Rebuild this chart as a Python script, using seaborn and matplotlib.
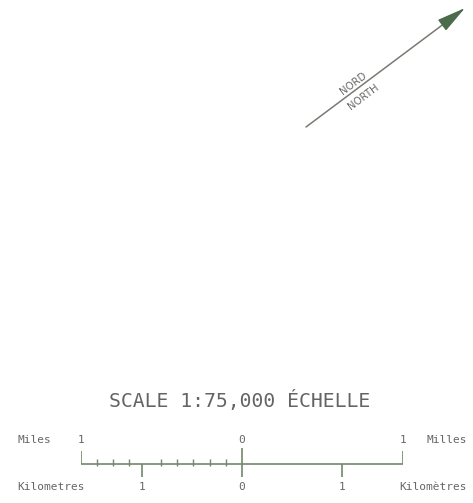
import matplotlib
matplotlib.use("Agg")
import matplotlib.pyplot as plt
import seaborn as sns
import numpy as np

# scale bar content (positions in miles, km converted below)
KM_PER_MILE = 1.609344
mile_ticks = [-1, 0, 1]
mile_labels = ["1", "0", "1"]
mile_tenths = [-0.9, -0.8, -0.7, -0.5, -0.4, -0.3, -0.2, -0.1]
km_ticks = [-1, 0, 1]
km_labels = ["1", "0", "1"]

title = "SCALE 1:75,000 ÉCHELLE"
north_labels = ["NORD", "NORTH"]

line_col = "#72896b"
text_col = "#666666"
head_col = "#4c6b4a"
mono = ["DejaVu Sans Mono", "DejaVu Sans"]

sns.set_style("white")
plt.rcParams["font.family"] = ["DejaVu Sans"]

fig = plt.figure(figsize=(4.73, 5.03), dpi=100)

# main axes in pixel units
ax = fig.add_axes([0, 0, 1, 1])
ax.set_xlim(0, 473)
ax.set_ylim(503, 0)
ax.axis("off")

# north arrow
tail = (306, 127)
tip = (465, 8)
ang = np.degrees(np.arctan2(tail[1] - tip[1], tip[0] - tail[0]))
ax.plot([tail[0], 447], [tail[1], 21.5], color="#7a7a74", lw=1.1)
ax.annotate("", xy=tip, xytext=(446, 22.2),
            arrowprops=dict(arrowstyle="-|>,head_length=1.8,head_width=0.42",
                            color=head_col, lw=1, shrinkA=0, shrinkB=0))
ax.text(353, 83, north_labels[0], rotation=ang, rotation_mode="anchor",
        ha="center", va="center", fontsize=7.3, color=text_col)
ax.text(363, 97, north_labels[1], rotation=ang, rotation_mode="anchor",
        ha="center", va="center", fontsize=7.3, color=text_col)

# title
ax.text(240, 401, title, ha="center", va="center", fontsize=14.2,
        color="#646464", family=mono)

# side labels
ax.text(17, 440, "Miles", ha="left", va="center", fontsize=8, color=text_col, family=mono)
ax.text(467, 440, "Milles", ha="right", va="center", fontsize=8, color=text_col, family=mono)
ax.text(17, 487, "Kilometres", ha="left", va="center", fontsize=8, color=text_col, family=mono)
ax.text(467, 487, "Kilomètres", ha="right", va="center", fontsize=8, color=text_col, family=mono)

# scale bar axes: x in miles, y in pixels
x0, x1 = 80.7, 402.7
bar = fig.add_axes([x0 / 473, 0, (x1 - x0) / 473, 1])
bar.set_xlim(-1, 1)
bar.set_ylim(503, 0)
bar.axis("off")
bar.patch.set_alpha(0)

base_y = 464
sns.lineplot(x=[-1, 1], y=[base_y, base_y], ax=bar, color=line_col, lw=1.2)

# end ticks (up), zero tick (through), km ticks (down), tenths (small)
bar.vlines([-1, 1], base_y - 13, base_y, color=line_col, lw=1.2)
bar.vlines([0], base_y - 16, base_y + 13, color=line_col, lw=1.2)
km_pos = [k / KM_PER_MILE for k in km_ticks]
bar.vlines([km_pos[0], km_pos[2]], base_y, base_y + 13, color=line_col, lw=1.2)
bar.vlines(mile_tenths, base_y - 5, base_y + 2, color=line_col, lw=1)

for m, lab in zip(mile_ticks, mile_labels):
    bar.text(m, 440, lab, ha="center", va="center", fontsize=8, color=text_col, family=mono)
for k, lab in zip(km_pos, km_labels):
    bar.text(k, 487, lab, ha="center", va="center", fontsize=8, color=text_col, family=mono)

fig.savefig("out.png", dpi=100, facecolor="white")
